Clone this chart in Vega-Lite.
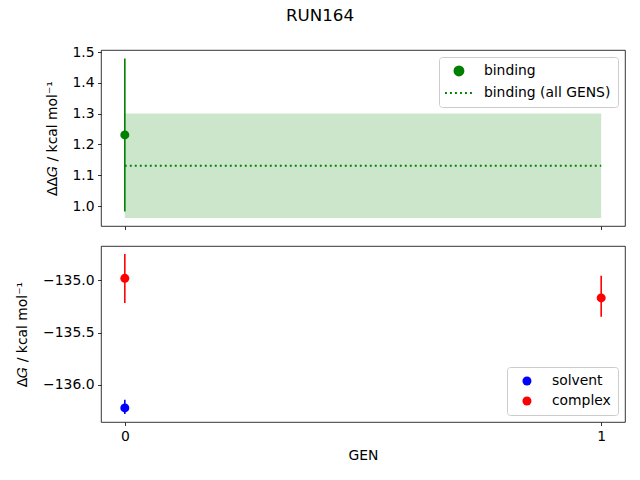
{
  "$schema": "https://vega.github.io/schema/vega-lite/v6.json",
  "padding": {"left": 14, "top": 8, "right": 0, "bottom": 0},
  "title": {"text": "RUN164", "fontSize": 16.7, "font": "DejaVu Sans", "fontWeight": "normal", "color": "black", "anchor": "middle", "offset": 20, "dx": 0},
  "datasets": {
    "binding": [
      {"gen": 0, "series": "binding", "ddg": 1.231, "lo": 0.982, "hi": 1.479}
    ],
    "allgens": [
      {"start": 0, "end": 1, "series": "binding (all GENS)", "ddg": 1.131, "lo": 0.961, "hi": 1.301}
    ],
    "legs": [
      {"gen": 0, "series": "solvent", "dg": -136.221, "lo": -136.279, "hi": -136.144},
      {"gen": 0, "series": "complex", "dg": -134.98, "lo": -135.215, "hi": -134.747},
      {"gen": 1, "series": "complex", "dg": -135.167, "lo": -135.348, "hi": -134.955}
    ]
  },
  "spacing": 20,
  "bounds": "flush",
  "resolve": {"scale": {"color": "independent", "y": "independent"}, "legend": {"color": "independent"}},
  "vconcat": [
    {
      "width": 524,
      "height": 176,
      "layer": [
        {
          "data": {"name": "allgens"},
          "mark": {"type": "rect", "color": "#008000", "opacity": 0.2},
          "encoding": {
            "x": {"field": "start", "type": "quantitative",
              "scale": {"domain": [-0.05, 1.05], "nice": false, "zero": false},
              "axis": {"values": [0, 1], "labels": false, "title": null}},
            "x2": {"field": "end"},
            "y": {"field": "lo", "type": "quantitative",
              "scale": {"domain": [0.935, 1.507], "nice": false, "zero": false},
              "title": "ΔΔ𝐺 / kcal mol⁻¹",
              "axis": {"values": [1.0, 1.1, 1.2, 1.3, 1.4, 1.5], "format": ".1f", "titleX": -42, "labelOverlap": false, "tickCount": 6}},
            "y2": {"field": "hi"}
          }
        },
        {
          "data": {"name": "binding"},
          "mark": {"type": "rule", "color": "#008000", "strokeWidth": 1.6},
          "encoding": {
            "x": {"field": "gen", "type": "quantitative"},
            "y": {"field": "lo", "type": "quantitative"},
            "y2": {"field": "hi"}
          }
        },
        {
          "data": {"name": "allgens"},
          "mark": {"type": "rule", "strokeWidth": 1.9, "strokeDash": [1.9, 3.1]},
          "encoding": {
            "x": {"field": "start", "type": "quantitative"},
            "x2": {"field": "end"},
            "y": {"field": "ddg", "type": "quantitative"},
            "color": {
              "field": "series", "type": "nominal",
              "scale": {"domain": ["binding", "binding (all GENS)"], "range": ["#008000", "#008000"]},
              "legend": {
                "orient": "top-right", "offset": 7,
                "encode": {
                  "symbols": {
                    "update": {
                      "shape": {"signal": "datum.value === 'binding' ? 'circle' : 'M-3.1,0H3.1'"},
                      "fill": {"signal": "datum.value === 'binding' ? '#008000' : 'transparent'"},
                      "stroke": {"signal": "datum.value === 'binding' ? 'transparent' : '#008000'"},
                      "strokeDash": {"signal": "datum.value === 'binding' ? [] : [1.9, 3.1]"},
                      "strokeWidth": {"value": 1.9},
                      "opacity": {"value": 1}
                    }
                  }
                }
              }
            }
          }
        },
        {
          "data": {"name": "binding"},
          "mark": {"type": "point", "filled": true, "opacity": 1, "size": 81},
          "encoding": {
            "x": {"field": "gen", "type": "quantitative"},
            "y": {"field": "ddg", "type": "quantitative"},
            "color": {"field": "series", "type": "nominal"}
          }
        }
      ]
    },
    {
      "width": 524,
      "height": 176,
      "data": {"name": "legs"},
      "layer": [
        {
          "mark": {"type": "rule", "strokeWidth": 1.6},
          "encoding": {
            "x": {"field": "gen", "type": "quantitative", "title": "GEN",
              "scale": {"domain": [-0.05, 1.05], "nice": false, "zero": false},
              "axis": {"values": [0, 1], "format": "d", "titlePadding": 6}},
            "y": {"field": "lo", "type": "quantitative",
              "scale": {"domain": [-136.356, -134.67], "nice": false, "zero": false},
              "title": "Δ𝐺 / kcal mol⁻¹",
              "axis": {"values": [-136.0, -135.5, -135.0], "format": ".1f", "titleX": -72, "labelOverlap": false}},
            "y2": {"field": "hi"},
            "color": {"condition": {"test": "datum.series === 'complex'", "value": "#ff0000"}, "value": "#0000ff"}
          }
        },
        {
          "mark": {"type": "point", "filled": true, "opacity": 1, "size": 81},
          "encoding": {
            "x": {"field": "gen", "type": "quantitative"},
            "y": {"field": "dg", "type": "quantitative"},
            "color": {
              "field": "series", "type": "nominal",
              "scale": {"domain": ["solvent", "complex"], "range": ["#0000ff", "#ff0000"]},
              "legend": {"orient": "bottom-right", "offset": 7, "symbolType": "circle", "symbolOpacity": 1}
            }
          }
        }
      ]
    }
  ],
  "config": {
    "font": "DejaVu Sans",
    "view": {"stroke": "black", "strokeWidth": 0.8},
    "axis": {
      "grid": false, "domain": false, "labelOverlap": false,
      "tickColor": "black", "tickWidth": 0.8, "tickSize": 3.5,
      "labelFont": "DejaVu Sans", "labelFontSize": 13.9, "labelColor": "black", "labelPadding": 3.5,
      "titleFont": "DejaVu Sans", "titleFontSize": 13.9, "titleFontWeight": "normal", "titleColor": "black"
    },
    "legend": {
      "title": null,
      "labelFont": "DejaVu Sans", "labelFontSize": 13.9, "labelColor": "black",
      "fillColor": "rgba(255,255,255,0.8)", "strokeColor": "#cccccc", "cornerRadius": 3,
      "padding": 7, "symbolOffset": 6, "labelOffset": 18, "rowPadding": 5,
      "symbolSize": 81, "symbolStrokeWidth": 1.5
    }
  }
}
